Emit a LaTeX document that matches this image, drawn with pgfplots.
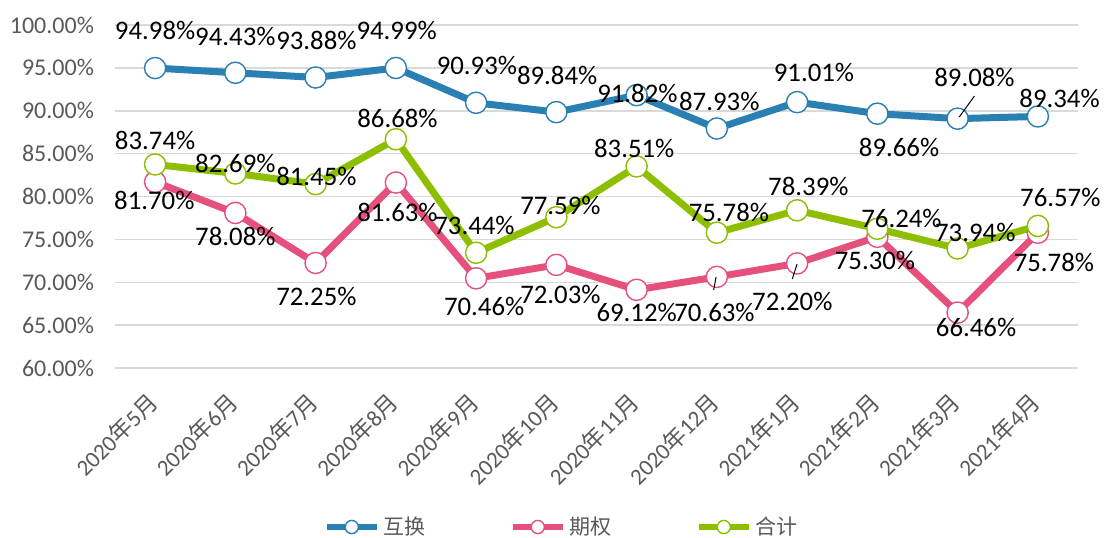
\documentclass[border=0pt]{standalone}
\usepackage{fontspec}
\setmainfont{Carlito}
\newfontfamily\cjk{Noto Sans CJK SC}
\usepackage{pgfplots}
\pgfplotsset{compat=1.18}
\definecolor{cblue}{HTML}{2A80B3}
\definecolor{cpink}{HTML}{E6507D}
\definecolor{cgreen}{HTML}{8DBE00}
\definecolor{tgray}{HTML}{595959}
\definecolor{ggray}{HTML}{D9D9D9}
\tikzset{lab/.style={font=\fontsize{13.4}{15}\selectfont, text=black, inner sep=0pt}}
\begin{document}
\begin{tikzpicture}
\useasboundingbox (-57.5pt,-84.5pt) rectangle (494.5pt,184pt);
\begin{axis}[
  scale only axis, width=481.5pt, height=171.5pt,
  xmin=-0.5, xmax=11.5, ymin=60, ymax=100,
  xtick={0,...,11},
  xticklabels={2020{\cjk 年}5{\cjk 月},2020{\cjk 年}6{\cjk 月},2020{\cjk 年}7{\cjk 月},2020{\cjk 年}8{\cjk 月},2020{\cjk 年}9{\cjk 月},2020{\cjk 年}10{\cjk 月},2020{\cjk 年}11{\cjk 月},2020{\cjk 年}12{\cjk 月},2021{\cjk 年}1{\cjk 月},2021{\cjk 年}2{\cjk 月},2021{\cjk 年}3{\cjk 月},2021{\cjk 年}4{\cjk 月}},
  ytick={60,65,...,100},
  /pgf/number format/assume math mode=true,
  yticklabel={\pgfmathprintnumber[fixed,fixed zerofill,precision=2]{\tick}\%},
  ymajorgrids, major grid style={ggray, line width=0.75pt},
  axis line style={draw=none}, major tick length=0,
  ticklabel style={font=\fontsize{12}{14}\selectfont, text=tgray},
  yticklabel style={xshift=-7pt},
  xticklabel style={font=\fontsize{11.5}{13}\selectfont, xshift=1.5pt, yshift=-12.5pt, rotate=45, anchor=east},
  clip=false,
  legend columns=3,
  legend style={at={(0.465,-0.4636)}, anchor=center, draw=none, fill=none,
    font=\fontsize{10.5}{12}\selectfont\cjk, text=tgray,
    /tikz/every even column/.append style={column sep=40pt}},
  legend image code/.code={\draw[#1, line width=3pt, mark size=3.3pt, mark repeat=2, mark phase=2] plot coordinates {(0pt,0pt) (12.5pt,0pt) (25pt,0pt)};},
  after end axis/.append code={
    % leader lines
    \draw[black, line width=0.5pt] (axis cs:10.21,91.72) -- (axis cs:10.02,89.27);
    \draw[black, line width=0.5pt] (axis cs:8.00,72.13) -- (axis cs:7.94,70.38);
    \draw[black, line width=0.5pt] (axis cs:6.99,70.61) -- (axis cs:6.96,69.10);
    % blue labels
    \node[lab] at (axis cs:0,99.42) {94.98\%};
    \node[lab] at (axis cs:1.00,98.72) {94.43\%};
    \node[lab] at (axis cs:2.01,98.25) {93.88\%};
    \node[lab] at (axis cs:3.01,99.42) {94.99\%};
    \node[lab] at (axis cs:4.01,95.34) {90.93\%};
    \node[lab] at (axis cs:5.01,94.17) {89.84\%};
    \node[lab] at (axis cs:6.01,92.07) {91.82\%};
    \node[lab] at (axis cs:7.03,91.14) {87.93\%};
    \node[lab] at (axis cs:8.21,94.52) {91.01\%};
    \node[lab] at (axis cs:9.27,85.77) {89.66\%};
    \node[lab] at (axis cs:10.21,93.94) {89.08\%};
    \node[lab] at (axis cs:11.27,91.49) {89.34\%};
    % pink labels
    \node[lab] at (axis cs:-0.01,79.59) {81.70\%};
    \node[lab] at (axis cs:1.00,75.39) {78.08\%};
    \node[lab] at (axis cs:2.01,68.40) {72.25\%};
    \node[lab] at (axis cs:3.02,78.19) {81.63\%};
    \node[lab] at (axis cs:4.10,67.23) {70.46\%};
    \node[lab] at (axis cs:5.05,68.63) {72.03\%};
    \node[lab] at (axis cs:6.00,66.53) {69.12\%};
    \node[lab] at (axis cs:6.97,66.53) {70.63\%};
    \node[lab] at (axis cs:7.94,67.81) {72.20\%};
    \node[lab] at (axis cs:8.97,72.59) {75.30\%};
    \node[lab] at (axis cs:10.23,64.78) {66.46\%};
    \node[lab] at (axis cs:11.20,72.36) {75.78\%};
    % green labels
    \node[lab] at (axis cs:0,86.59) {83.74\%};
    \node[lab] at (axis cs:1.00,83.91) {82.69\%};
    \node[lab] at (axis cs:2.01,82.39) {81.45\%};
    \node[lab] at (axis cs:3.02,89.15) {86.68\%};
    \node[lab] at (axis cs:3.98,76.68) {73.44\%};
    \node[lab] at (axis cs:5.05,79.01) {77.59\%};
    \node[lab] at (axis cs:5.97,85.66) {83.51\%};
    \node[lab] at (axis cs:7.15,78.19) {75.78\%};
    \node[lab] at (axis cs:8.14,81.22) {78.39\%};
    \node[lab] at (axis cs:9.30,77.49) {76.24\%};
    \node[lab] at (axis cs:10.22,75.86) {73.94\%};
    \node[lab] at (axis cs:11.28,79.94) {76.57\%};
  },
]
\addplot[cblue, line width=3.5pt, mark=*, mark size=5.3pt, mark options={fill=white, draw=cblue, line width=0.7pt}]
  coordinates {(0,94.98) (1,94.43) (2,93.88) (3,94.99) (4,90.93) (5,89.84) (6,91.82) (7,87.93) (8,91.01) (9,89.66) (10,89.08) (11,89.34)};
\addlegendentry{互换}
\addplot[cpink, line width=3.5pt, mark=*, mark size=5.3pt, mark options={fill=white, draw=cpink, line width=0.7pt}]
  coordinates {(0,81.70) (1,78.08) (2,72.25) (3,81.63) (4,70.46) (5,72.03) (6,69.12) (7,70.63) (8,72.20) (9,75.30) (10,66.46) (11,75.78)};
\addlegendentry{期权}
\addplot[cgreen, line width=3.5pt, mark=*, mark size=5.3pt, mark options={fill=white, draw=cgreen, line width=0.7pt}]
  coordinates {(0,83.74) (1,82.69) (2,81.45) (3,86.68) (4,73.44) (5,77.59) (6,83.51) (7,75.78) (8,78.39) (9,76.24) (10,73.94) (11,76.57)};
\addlegendentry{合计}
\end{axis}
\end{tikzpicture}
\end{document}
